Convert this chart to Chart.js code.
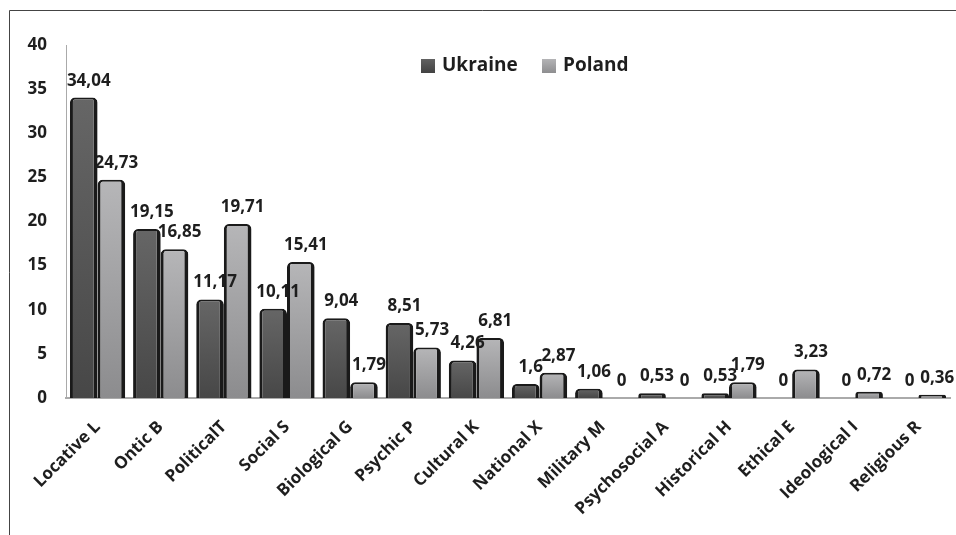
<!doctype html>
<html>
<head>
	<title>Ukraine / Poland bar chart</title>
	<script src="https://cdn.jsdelivr.net/npm/chart.js@4.4.1/dist/chart.umd.min.js"></script>
	<style>
	html, body { margin: 0; padding: 0; background: #fff; }
	#wrap { width: 956px; height: 535px; }
	</style>
</head>
<body>
	<div id="wrap"><canvas id="canvas" width="956" height="535"></canvas></div>

	<script>
		var categories = ['Locative L', 'Ontic B', 'PoliticalT', 'Social S', 'Biological G', 'Psychic P', 'Cultural K',
			'National X', 'Military M', 'Psychosocial A', 'Historical H', 'Ethical E', 'Ideological I', 'Religious R'];
		var ukraine = [34.04, 19.15, 11.17, 10.11, 9.04, 8.51, 4.26, 1.6, 1.06, 0.53, 0.53, 0, 0, 0];
		var poland = [24.73, 16.85, 19.71, 15.41, 1.79, 5.73, 6.81, 2.87, 0, 0, 1.79, 3.23, 0.72, 0.36];
		var yTicks = [0, 5, 10, 15, 20, 25, 30, 35, 40];

		var FONT = '"Open Sans", Lato, sans-serif';

		// vertical gradient per bar, lighter at top
		function barFill(top, bottom) {
			return function(c) {
				var chart = c.chart;
				if (!chart.chartArea || c.raw === undefined) return top;
				var y0 = chart.scales.y.getPixelForValue(c.raw);
				var y1 = chart.scales.y.getPixelForValue(0);
				if (y1 - y0 < 1) return top;
				var g = chart.ctx.createLinearGradient(0, y0, 0, y1);
				g.addColorStop(0, top);
				g.addColorStop(1, bottom);
				return g;
			};
		}

		// frame, legend and value labels
		var decor = {
			id: 'decor',
			beforeDraw: function(chart) {
				var ctx = chart.ctx;
				ctx.save();
				ctx.strokeStyle = '#444';
				ctx.lineWidth = 1;
				ctx.beginPath();
				ctx.moveTo(9.5, 535);
				ctx.lineTo(9.5, 10.5);
				ctx.lineTo(956, 10.5);
				ctx.stroke();
				ctx.restore();
			},
			afterDatasetsDraw: function(chart) {
				var ctx = chart.ctx;
				ctx.save();
				ctx.font = 'bold 17px ' + FONT;
				ctx.fillStyle = '#1e1e1e';
				ctx.textAlign = 'center';
				ctx.textBaseline = 'alphabetic';
				chart.data.datasets.forEach(function(ds, i) {
					chart.getDatasetMeta(i).data.forEach(function(el, j) {
						var txt = String(ds.data[j]).replace('.', ',');
						ctx.fillText(txt, el.x + 5, el.y - 12);
					});
				});

				// legend
				var items = [
					{ label: 'Ukraine', a: '#626262', b: '#424242', x: 421 },
					{ label: 'Poland', a: '#b4b4b6', b: '#8e8e90', x: 542 }
				];
				ctx.font = 'bold 19px ' + FONT;
				ctx.textAlign = 'left';
				ctx.textBaseline = 'middle';
				items.forEach(function(it) {
					var g = ctx.createLinearGradient(0, 59, 0, 73);
					g.addColorStop(0, it.a);
					g.addColorStop(1, it.b);
					ctx.fillStyle = g;
					ctx.fillRect(it.x, 59, 14, 14);
					ctx.fillStyle = '#1e1e1e';
					ctx.fillText(it.label, it.x + 21, 66);
				});
				ctx.restore();
			}
		};

		var ctx = document.getElementById('canvas').getContext('2d');
		new Chart(ctx, {
			type: 'bar',
			data: {
				labels: categories,
				datasets: [{
					label: 'Ukraine',
					data: ukraine,
					backgroundColor: barFill('#666666', '#474747'),
					borderColor: '#1a1a1a',
					borderWidth: { top: 2, left: 3, right: 4, bottom: 0 },
					borderRadius: { topLeft: 5, topRight: 5 },
					borderSkipped: 'bottom'
				}, {
					label: 'Poland',
					data: poland,
					backgroundColor: barFill('#b6b6b8', '#8c8c8e'),
					borderColor: '#1a1a1a',
					borderWidth: { top: 2, left: 3, right: 4, bottom: 0 },
					borderRadius: { topLeft: 5, topRight: 5 },
					borderSkipped: 'bottom'
				}]
			},
			options: {
				responsive: false,
				animation: false,
				categoryPercentage: 0.875,
				barPercentage: 1,
				layout: { padding: { left: 9, top: 45, right: 6, bottom: 0 } },
				plugins: {
					legend: { display: false },
					tooltip: { enabled: false }
				},
				scales: {
					x: {
						grid: { display: false, drawTicks: false },
						border: { display: true, color: '#aaa', width: 2 },
						ticks: {
							maxRotation: 45,
							minRotation: 45,
							padding: 19,
							color: '#1e1e1e',
							font: { family: FONT, size: 17, weight: 'bold' }
						},
						afterFit: function(s) { s.height = 137; }
					},
					y: {
						min: 0,
						max: 40,
						afterBuildTicks: function(s) { s.ticks = yTicks.map(function(v) { return { value: v }; }); },
						grid: { display: false, drawTicks: false },
						border: { display: true, color: '#aaa', width: 1 },
						ticks: {
							padding: 19,
							color: '#1e1e1e',
							font: { family: FONT, size: 17, weight: 'bold' }
						},
						afterFit: function(s) { s.width = 57; }
					}
				}
			},
			plugins: [decor]
		});
	</script>
</body>
</html>
